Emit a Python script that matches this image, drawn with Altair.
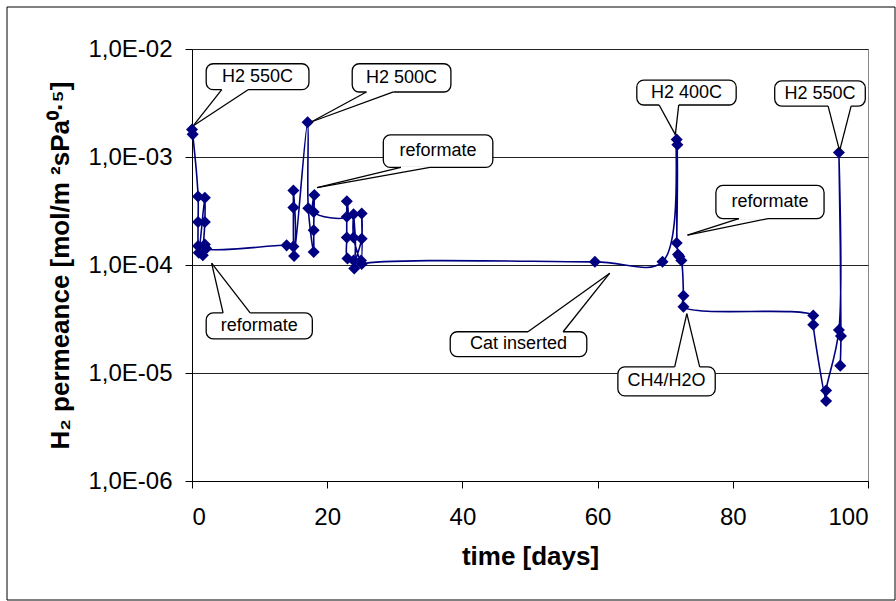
import altair as alt
import pandas as pd
import numpy as np

# ---- measured series (in recorded order) ----
days = [0.0, 0.1,
        0.9, 0.9, 0.9, 1.0,
        1.9, 1.9, 1.6, 1.9, 2.1,
        14.0,
        15.0, 15.0, 15.0, 15.1,
        17.1, 17.2,
        18.0, 18.0, 18.1, 18.0,
        22.9, 22.9, 22.9, 23.0,
        23.9, 23.9, 23.9,
        25.0, 25.1, 25.1,
        24.0, 25.1,
        59.6,
        69.6,
        71.7, 71.7, 71.8, 71.9, 72.1, 72.4, 72.7, 72.7,
        91.9, 91.9,
        93.8, 93.8,
        95.7, 95.7, 96.0, 95.9]
permeance = [1.80e-3, 1.62e-3,
             4.3e-4, 2.5e-4, 1.5e-4, 1.3e-4,
             4.2e-4, 2.5e-4, 1.23e-4, 1.55e-4, 1.42e-4,
             1.52e-4,
             1.48e-4, 4.9e-4, 3.4e-4, 1.21e-4,
             2.1e-3, 3.35e-4,
             1.32e-4, 2.1e-4, 4.45e-4, 3.1e-4,
             2.8e-4, 3.9e-4, 1.8e-4, 1.15e-4,
             1.1e-4, 2.95e-4, 1.8e-4,
             1.1e-4, 3.0e-4, 1.75e-4,
             9.3e-5, 1.02e-4,
             1.07e-4,
             1.07e-4,
             1.45e-3, 1.6e-4, 1.3e-3, 1.25e-4, 1.2e-4, 1.1e-4, 5.2e-5, 4.1e-5,
             3.4e-5, 2.8e-5,
             5.5e-6, 6.9e-6,
             2.5e-5, 1.1e-3, 2.2e-5, 1.17e-5]

y_ticks = [1e-6, 1e-5, 1e-4, 1e-3, 1e-2]
x_ticks = [0, 20, 40, 60, 80, 100]

# ---- callouts (data units: days / permeance) ----
callout_labels = ["H2 550C", "H2 500C", "reformate", "reformate", "Cat inserted",
                  "H2 400C", "H2 550C", "reformate", "CH4/H2O"]
box_x1 = [2.1, 23.7, 28.3, 2.1, 38.2, 65.8, 86.2, 77.5, 63.0]
box_x2 = [17.3, 38.3, 44.5, 17.8, 58.4, 80.5, 99.6, 93.5, 77.4]
box_y1 = [4.2e-3, 4.0e-3, 8.0e-4, 2.07e-5, 1.42e-5, 3.03e-3, 2.96e-3, 2.69e-4, 6.13e-6]
box_y2 = [7.3e-3, 7.3e-3, 1.6e-3, 3.6e-5, 2.41e-5, 5.16e-3, 5.06e-3, 5.45e-4, 1.14e-5]
base_xa = [4.4, 25.8, 30.9, 4.6, 49.7, 69.1, 94.1, 80.9, 71.4]
base_xb = [8.3, 29.8, 35.2, 8.6, 54.9, 72.0, 97.5, 85.2, 75.1]
base_y = [4.2e-3, 4.0e-3, 8.0e-4, 3.6e-5, 2.41e-5, 3.03e-3, 2.96e-3, 2.69e-4, 1.14e-5]
tip_x = [0.2, 17.7, 18.5, 2.9, 61.8, 71.5, 95.8, 73.3, 73.2]
tip_y = [1.95e-3, 2.12e-3, 5.2e-4, 1.04e-4, 8.4e-5, 1.61e-3, 1.14e-3, 1.89e-4, 3.55e-5]

series = pd.DataFrame({"idx": range(len(days)), "day": days, "perm": permeance})
notes = pd.DataFrame({
    "label": callout_labels, "x1": box_x1, "x2": box_x2, "y1": box_y1, "y2": box_y2,
    "xa": base_xa, "xb": base_xb, "yb": base_y, "tx": tip_x, "ty": tip_y,
})
notes["cx"] = (notes["x1"] + notes["x2"]) / 2
notes["cy"] = np.sqrt(notes["y1"] * notes["y2"])

FONT = "Liberation Sans"
NAVY = "#000080"

xscale = alt.Scale(domain=[0, 100], nice=False, zero=False)
yscale = alt.Scale(type="log", domain=[1e-6, 1e-2], nice=False)

x_axis = alt.Axis(values=x_ticks, grid=False, title="time [days]", labelPadding=17,
                  titlePadding=14)
y_axis = alt.Axis(values=y_ticks, grid=True, gridColor="#222222", gridWidth=1,
                  labelExpr="'1,0E-0' + round(-log(datum.value)/LN10)",
                  title="H₂ permeance [mol/m ²sPa⁰·⁵]", labelPadding=13, titlePadding=14)

base = alt.Chart(series)

line = base.mark_line(color=NAVY, strokeWidth=1.6, interpolate="catmull-rom").encode(
    x=alt.X("day:Q", scale=xscale, axis=x_axis),
    y=alt.Y("perm:Q", scale=yscale, axis=y_axis),
    order="idx:Q",
)
points = base.mark_point(shape="diamond", filled=True, size=145, color=NAVY, opacity=1).encode(
    x=alt.X("day:Q", scale=xscale),
    y=alt.Y("perm:Q", scale=yscale),
)

nb = alt.Chart(notes)
boxes = nb.mark_rect(fill="white", stroke="black", strokeWidth=1.3, cornerRadius=7).encode(
    x=alt.X("x1:Q", scale=xscale), x2="x2:Q",
    y=alt.Y("y1:Q", scale=yscale), y2="y2:Q",
)
gap = nb.mark_rule(color="white", strokeWidth=2.5).encode(
    x=alt.X("xa:Q", scale=xscale), x2="xb:Q",
    y=alt.Y("yb:Q", scale=yscale),
)
wedge_a = nb.mark_rule(color="black", strokeWidth=1.3).encode(
    x=alt.X("xa:Q", scale=xscale), x2="tx:Q",
    y=alt.Y("yb:Q", scale=yscale), y2="ty:Q",
)
wedge_b = nb.mark_rule(color="black", strokeWidth=1.3).encode(
    x=alt.X("xb:Q", scale=xscale), x2="tx:Q",
    y=alt.Y("yb:Q", scale=yscale), y2="ty:Q",
)
texts = nb.mark_text(font=FONT, fontSize=18, color="black", align="center",
                     baseline="middle").encode(
    x=alt.X("cx:Q", scale=xscale),
    y=alt.Y("cy:Q", scale=yscale),
    text="label:N",
)

frame = alt.Chart(pd.DataFrame({"a": [0]})).mark_rect(
    fill="white", fillOpacity=0, stroke="black", strokeWidth=1).encode(
    x=alt.value(-185), x2=alt.value(703), y=alt.value(-42), y2=alt.value(551)
)

chart = alt.layer(frame, line, points, boxes, gap, wedge_a, wedge_b, texts).properties(
    width=676, height=432,
    autosize=alt.AutoSizeParams(type="none"),
    padding={"left": 192, "top": 49, "right": 28, "bottom": 120},
    background="white",
).configure_view(stroke="#888888", strokeWidth=1).configure_axis(
    labelFont=FONT, labelFontSize=24, labelColor="black",
    titleFont=FONT, titleFontSize=26, titleFontWeight="bold", titleColor="black",
    domainColor="black", tickColor="black", tickSize=7, domainWidth=1, tickWidth=1,
)

chart.save("out.html", embed_options={"renderer": "svg", "actions": False})
